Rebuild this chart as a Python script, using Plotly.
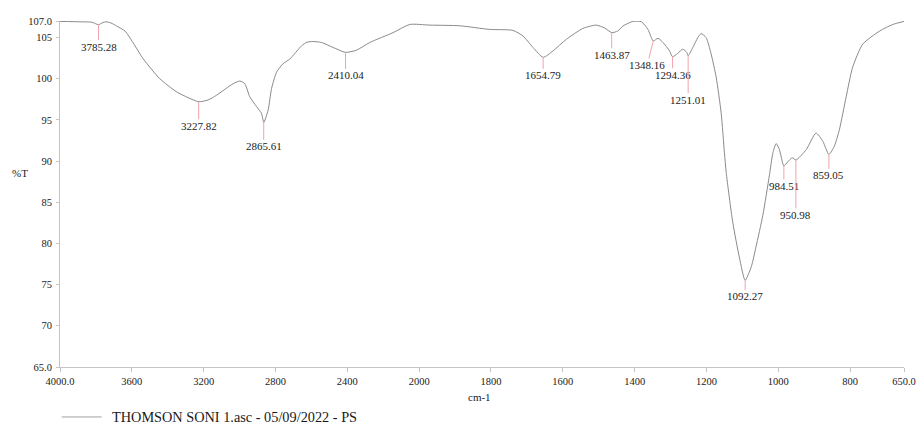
import plotly.graph_objects as go

# ---- data ----
wavenumber = [4000, 3889, 3822, 3785.28, 3761, 3744, 3716, 3684, 3638, 3594, 3536, 3444, 3351, 3288,
              3227.82, 3176, 3128, 3036, 2998, 2971, 2943, 2905, 2878, 2865.61, 2841, 2822, 2794, 2759,
              2720, 2655, 2625, 2590, 2544, 2479, 2410.04, 2349, 2275, 2145, 2052, 1970, 1887, 1804,
              1739, 1711, 1683, 1654.79, 1627, 1590, 1544, 1507, 1484, 1463.87, 1447, 1433, 1405, 1381,
              1363, 1348.16, 1335, 1321, 1303, 1294.36, 1280, 1266, 1255, 1251.01, 1238, 1224, 1215,
              1201, 1187, 1173, 1159, 1150, 1145, 1127, 1108, 1092.27, 1075, 1062, 1043, 1025, 1015,
              1006, 997, 984.51, 974, 961, 950.98, 922, 895, 876, 859.05, 844, 830, 811, 793, 765,
              718, 681, 650]
transmittance = [106.95, 106.9, 106.85, 106.55, 106.82, 106.9, 106.76, 106.38, 105.78, 104.39, 102.39,
                 99.99, 98.40, 97.71, 97.20, 97.41, 97.99, 99.39, 99.71, 99.39, 97.80, 96.60, 95.80,
                 94.68, 96.19, 98.79, 100.79, 101.79, 102.39, 103.98, 104.42, 104.51, 104.39, 103.79,
                 103.19, 103.46, 104.39, 105.59, 106.58, 106.50, 106.42, 105.98, 105.86, 105.18,
                 103.79, 102.59, 103.38, 104.78, 106.10, 106.50, 106.16, 105.59, 105.78, 106.38,
                 106.95, 106.90, 105.98, 104.58, 104.90, 104.39, 103.38, 102.66, 103.07, 103.58,
                 103.19, 102.78, 103.79, 104.99, 105.47, 104.99, 102.99, 100.19, 95.80, 91.00, 88.60,
                 82.61, 78.22, 75.51, 77.2, 79.6, 83.42, 88.21, 91.00, 92.12, 91.40, 89.41, 89.89,
                 90.40, 90.13, 91.40, 93.40, 92.40, 90.80, 91.80, 93.79, 97.80, 101.39, 104.18,
                 105.78, 106.58, 106.95]

peak_wavenumbers = [3785.28, 3227.82, 2865.61, 2410.04, 1654.79, 1463.87, 1348.16, 1294.36,
                    1251.01, 1092.27, 984.51, 950.98, 859.05]
peak_transmittance = [106.55, 97.20, 94.68, 103.19, 102.59, 105.59, 104.58, 102.66,
                      102.78, 75.51, 89.41, 90.13, 90.80]
peak_labels = ["3785.28", "3227.82", "2865.61", "2410.04", "1654.79", "1463.87", "1348.16",
               "1294.36", "1251.01", "1092.27", "984.51", "950.98", "859.05"]

x_tick_values = [4000, 3600, 3200, 2800, 2400, 2000, 1800, 1600, 1400, 1200, 1000, 800, 650]
x_tick_labels = ["4000.0", "3600", "3200", "2800", "2400", "2000", "1800", "1600", "1400",
                 "1200", "1000", "800", "650.0"]
y_tick_values = [65, 70, 75, 80, 85, 90, 95, 100, 105, 107]
y_tick_labels = ["65.0", "70", "75", "80", "85", "90", "95", "100", "105", "107.0"]

legend_text = "THOMSON SONI 1.asc - 05/09/2022 - PS"

# ---- layout-only settings (label offsets in pixels) ----
label_dx = [0, 0, 0, 0, 0, 0, -6, 0, 0, 0, 0, 0, 0]
label_dy = [22, 24, 24, 23, 18, 22, 24, 18, 44, 16, 20, 55, 21]


def to_axis(w):
    # split abscissa: 4000-2000 compressed by 2x, 2000-650 linear
    return (4000 - w) / 2 if w >= 2000 else 1000 + (2000 - w)


FONT = "Liberation Serif, Times New Roman, serif"
TXT = "#1a1a1a"

fig = go.Figure()
fig.add_trace(go.Scatter(
    x=[to_axis(w) for w in wavenumber], y=transmittance, mode="lines",
    line=dict(color="#8a8a8a", width=1, shape="spline", smoothing=0.6),
    showlegend=False, hoverinfo="skip"))

for w, t, lab, dx, dy in zip(peak_wavenumbers, peak_transmittance, peak_labels, label_dx, label_dy):
    fig.add_annotation(x=to_axis(w), y=t, xref="x", yref="y", text=lab,
                       showarrow=True, arrowhead=0, arrowwidth=1, arrowcolor="#f2a2ac",
                       ax=dx, ay=dy, standoff=0, startstandoff=0, borderpad=0,
                       font=dict(family=FONT, size=11, color=TXT))

# axis titles
fig.add_annotation(text="%T", xref="paper", yref="paper", x=-0.047, y=0.56, showarrow=False,
                   xanchor="center", yanchor="middle",
                   font=dict(family=FONT, size=11, color=TXT))
fig.add_annotation(text="cm-1", xref="paper", yref="paper", x=0.4965, y=-0.0855, showarrow=False,
                   xanchor="center", yanchor="middle",
                   font=dict(family=FONT, size=11, color=TXT))

# legend
fig.add_shape(type="line", xref="paper", yref="paper", x0=0.002, x1=0.0493, y0=-0.1444, y1=-0.1444,
              line=dict(color="#a0a0a0", width=1))
fig.add_annotation(text=legend_text, xref="paper", yref="paper", x=0.0591, y=-0.1444,
                   xanchor="left", yanchor="middle", showarrow=False,
                   font=dict(family=FONT, size=14.3, color=TXT))

# page body has an 8px margin, so the figure is 8px smaller on each side
fig.update_layout(
    width=916, height=423,
    margin=dict(l=52, r=18, t=8, b=64),
    paper_bgcolor="white", plot_bgcolor="white",
    showlegend=False,
    xaxis=dict(range=[0, to_axis(650)], tickmode="array",
               tickvals=[to_axis(v) for v in x_tick_values], ticktext=x_tick_labels,
               showgrid=False, zeroline=False, showline=True, linecolor="#c4c4c4", linewidth=1,
               ticks="outside", ticklen=4, tickcolor="#c4c4c4",
               tickfont=dict(family=FONT, size=10.5, color=TXT)),
    yaxis=dict(range=[65, 107], tickmode="array", tickvals=y_tick_values, ticktext=y_tick_labels,
               showgrid=False, zeroline=False, showline=True, linecolor="#c4c4c4", linewidth=1,
               ticks="outside", ticklen=3, tickcolor="#c4c4c4", ticklabelstandoff=2,
               tickfont=dict(family=FONT, size=10.5, color=TXT)),
)

fig.write_html("out.html")
